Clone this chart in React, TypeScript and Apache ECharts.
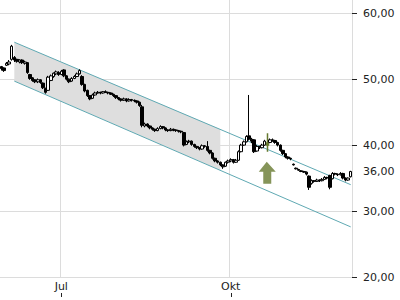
import React, { useEffect, useRef } from 'react';
import * as echarts from 'echarts';

// ---------- categories (trading days) ----------
const START_DATE = '2023-05-31';
const DAY_COUNT = 135;
function tradingDays(start: string, n: number): string[] {
  const out: string[] = [];
  const d = new Date(start + 'T00:00:00Z');
  while (out.length < n) {
    const wd = d.getUTCDay();
    if (wd !== 0 && wd !== 6) out.push(d.toISOString().slice(0, 10));
    d.setUTCDate(d.getUTCDate() + 1);
  }
  return out;
}
const dates = tradingDays(START_DATE, DAY_COUNT);
const monthLabels: Record<number, string> = { 7: 'Jul', 10: 'Okt' };

// ---------- OHLC: [open, close, low, high] ----------
const ohlc: number[][] = [
  [51.9, 51.6, 51.3, 52.0], [51.7, 51.3, 51.1, 51.8], [52.1, 52.4, 52.0, 52.6], [52.3, 52.6, 52.1, 52.9], [53.0, 55.0, 52.8, 55.2],
  [53.3, 52.9, 52.6, 53.5], [53.0, 52.7, 52.5, 53.1], [52.6, 52.9, 52.4, 53.0], [52.9, 52.5, 52.3, 53.0], [52.4, 52.6, 52.2, 52.8],
  [52.5, 51.0, 50.8, 52.6], [50.7, 50.1, 49.9, 50.8], [50.2, 49.8, 49.6, 50.3], [49.9, 49.6, 49.4, 50.0], [49.6, 49.9, 49.4, 50.1],
  [49.9, 49.5, 49.3, 50.0], [49.4, 48.7, 48.5, 49.5], [48.6, 48.0, 47.8, 48.7], [48.3, 50.3, 48.2, 50.5], [49.8, 50.5, 49.7, 50.7],
  [50.4, 50.9, 50.2, 51.0], [50.8, 51.1, 50.6, 51.3], [51.0, 50.7, 50.5, 51.2], [50.7, 51.2, 50.6, 51.4], [51.4, 50.5, 50.3, 51.5],
  [50.5, 50.0, 49.8, 50.6], [50.0, 49.6, 49.4, 50.1], [49.7, 50.1, 49.6, 50.3], [50.1, 50.4, 50.0, 50.6], [50.4, 50.8, 50.3, 51.0],
  [50.8, 51.3, 50.7, 51.5], [50.4, 49.2, 49.0, 50.6], [49.2, 48.2, 48.0, 49.3], [48.3, 47.5, 47.3, 48.4], [47.5, 47.0, 46.8, 47.6],
  [47.1, 47.6, 47.0, 47.8], [47.6, 47.9, 47.5, 48.1], [47.9, 48.0, 47.8, 48.2], [48.0, 47.9, 47.7, 48.1], [47.9, 48.1, 47.8, 48.2],
  [48.1, 48.0, 47.9, 48.3], [48.0, 47.9, 47.7, 48.1], [47.9, 47.7, 47.6, 48.0], [47.7, 47.5, 47.3, 47.8], [47.5, 47.2, 47.0, 47.6],
  [47.2, 47.0, 46.8, 47.3], [47.0, 46.8, 46.6, 47.1], [46.8, 47.0, 46.7, 47.2], [47.0, 46.7, 46.5, 47.1], [46.7, 46.9, 46.6, 47.1],
  [46.9, 46.8, 46.6, 47.0], [46.8, 46.7, 46.5, 46.9], [46.7, 46.5, 46.3, 46.8], [46.5, 46.0, 45.8, 46.6], [45.8, 43.0, 42.7, 46.1],
  [42.9, 43.2, 42.7, 43.4], [43.2, 42.9, 42.7, 43.3], [42.9, 42.6, 42.4, 43.0], [42.6, 42.4, 42.2, 42.7], [42.4, 42.2, 42.0, 42.5],
  [42.2, 42.5, 42.1, 42.7], [42.5, 42.8, 42.4, 43.0], [42.8, 42.6, 42.4, 42.9], [42.6, 42.3, 42.1, 42.7], [42.3, 42.2, 42.0, 42.4],
  [42.2, 42.4, 42.1, 42.6], [42.4, 42.3, 42.1, 42.5], [42.3, 42.2, 42.0, 42.4], [42.2, 42.1, 41.9, 42.3], [42.1, 42.0, 41.8, 42.2],
  [41.9, 40.0, 39.8, 42.0], [40.1, 40.5, 40.0, 40.7], [40.5, 40.6, 40.3, 40.8], [40.6, 40.1, 39.9, 40.7], [40.1, 39.8, 39.6, 40.2],
  [39.8, 39.6, 39.4, 39.9], [39.6, 39.4, 39.2, 39.7], [39.4, 39.9, 39.3, 40.1], [39.9, 39.8, 39.6, 40.0], [39.8, 39.2, 39.0, 40.6],
  [39.2, 38.8, 38.6, 39.3], [38.8, 38.0, 37.8, 38.9], [38.0, 37.6, 37.4, 38.1], [37.6, 37.4, 37.2, 37.7], [37.4, 37.0, 36.8, 37.5],
  [37.0, 36.7, 36.4, 37.1], [36.8, 37.4, 36.7, 37.5], [37.4, 37.6, 37.2, 37.8], [37.6, 37.8, 37.4, 38.0], [37.8, 37.4, 37.2, 37.9],
  [37.4, 37.7, 37.3, 37.9], [37.7, 39.0, 37.6, 39.2], [39.0, 40.0, 38.9, 40.2], [40.0, 40.5, 39.9, 40.7], [40.5, 41.3, 40.4, 41.5],
  [41.4, 40.9, 40.7, 47.6], [40.9, 40.6, 40.3, 41.1], [40.8, 39.0, 38.8, 40.9], [39.1, 39.8, 39.0, 40.0], [39.8, 39.6, 39.4, 39.9],
  [39.6, 40.0, 39.5, 40.2], [40.0, 40.6, 39.9, 40.8], [40.0, 40.3, 39.0, 41.8], [40.4, 40.8, 40.3, 41.0], [40.8, 40.7, 40.5, 41.0],
  [40.7, 40.4, 40.2, 40.8], [40.4, 40.0, 39.8, 40.5], [40.0, 39.2, 39.0, 40.1], [39.2, 38.7, 38.5, 39.3], [38.7, 38.2, 38.0, 38.8],
  [38.2, 38.0, 37.8, 38.3], [38.0, 37.9, 37.7, 38.1], [37.1, 37.0, 36.9, 37.2], [36.5, 36.4, 36.3, 36.6], [36.3, 36.2, 36.1, 36.4],
  [36.1, 36.0, 35.9, 36.2], [36.0, 35.9, 35.8, 36.1], [35.9, 35.6, 35.4, 36.0], [35.3, 33.6, 33.2, 35.4], [34.2, 34.6, 34.0, 34.8],
  [34.6, 34.5, 34.3, 34.7], [34.5, 34.7, 34.4, 34.9], [34.7, 34.6, 34.4, 34.8], [34.6, 34.8, 34.5, 35.0], [34.8, 35.1, 34.7, 35.3],
  [35.1, 35.0, 34.8, 35.2], [35.4, 33.6, 33.3, 35.5], [34.9, 35.7, 34.8, 35.9], [35.7, 35.6, 35.4, 35.8], [35.6, 35.5, 35.3, 35.7],
  [35.5, 35.7, 35.4, 35.9], [35.7, 35.0, 34.8, 35.8], [35.0, 34.7, 34.5, 35.1], [34.7, 35.0, 34.6, 35.1], [35.2, 36.0, 35.1, 36.1],
];

// signal candle and arrow
const signalIndex = 102;
const signalArrow = [[102, 35.8]];

// trend channel: [dayIndex, value]
const upperChannel = [[5, 55.6], [134, 34.0]];
const lowerChannel = [[5, 49.7], [134, 27.6]];
// shaded band: [dayIndex, upper, lower]
const shadeBand = [[5, 55.6, 49.7], [84, 42.4, 36.2]];

// y axis
const yMin = 20;
const yMax = 62;
const yGridValues = [20, 30, 40, 50, 60];
const yLabelValues = [20, 30, 36, 40, 50, 60];

const GRID_COLOR = '#dcdcdc';
const CHANNEL_COLOR = '#5fa9b3';
const SIGNAL_COLOR = '#66792f';

function isQuarterLabel(index: number): boolean {
  const m = Number(dates[index].slice(5, 7));
  if (!monthLabels[m]) return false;
  if (index === 0) return false;
  return dates[index - 1].slice(5, 7) !== dates[index].slice(5, 7);
}

export default function App() {
  const ref = useRef<HTMLDivElement>(null);
  useEffect(() => {
    if (!ref.current) return;
    const chart = echarts.init(ref.current, undefined, { renderer: 'svg' });
    const candleData = ohlc.map((v, i) =>
      i === signalIndex
        ? { value: v, itemStyle: { color: SIGNAL_COLOR, color0: SIGNAL_COLOR, borderColor: SIGNAL_COLOR, borderColor0: SIGNAL_COLOR, borderWidth: 1.5 } }
        : v
    );
    chart.setOption({
      animation: false,
      grid: { left: 0, right: 48, top: 0, bottom: 23, containLabel: false },
      xAxis: [
        {
          type: 'category',
          data: dates,
          boundaryGap: true,
          axisLine: { show: false },
          axisTick: { show: false },
          axisLabel: {
            interval: (i: number) => isQuarterLabel(i),
            formatter: (v: string) => monthLabels[Number(v.slice(5, 7))] || '',
            margin: 4,
            fontSize: 11,
            color: '#222',
            fontFamily: 'DejaVu Sans',
          },
          splitLine: { show: true, interval: (i: number) => isQuarterLabel(i), lineStyle: { color: GRID_COLOR, width: 1 } },
        },
        {
          type: 'category',
          data: dates,
          boundaryGap: true,
          position: 'bottom',
          offset: 16,
          axisLine: { show: false },
          axisLabel: { show: false },
          axisTick: { show: true, alignWithLabel: true, length: 4, interval: (i: number) => isQuarterLabel(i), lineStyle: { color: '#222' } },
          splitLine: { show: false },
        },
      ],
      yAxis: {
        type: 'value',
        position: 'right',
        min: yMin,
        max: yMax,
        interval: 10,
        axisLine: { show: false },
        axisTick: { show: true, length: 5, customValues: yGridValues, lineStyle: { color: '#222' } },
        axisLabel: {
          customValues: yLabelValues,
          formatter: (v: number) => v.toFixed(2).replace('.', ','),
          margin: 11,
          fontSize: 11,
          color: '#222',
          fontFamily: 'DejaVu Sans',
        },
        splitLine: { show: true, lineStyle: { color: GRID_COLOR, width: 1 } },
      },
      series: [
        {
          type: 'custom',
          z: 1,
          silent: true,
          data: [[shadeBand[0][0], shadeBand[0][1]]],
          renderItem: (params: any, api: any) => {
            const a = shadeBand[0];
            const b = shadeBand[1];
            const p1 = api.coord([a[0], a[1]]);
            const p2 = api.coord([b[0], b[1]]);
            const p3 = api.coord([b[0], b[2]]);
            const p4 = api.coord([a[0], a[2]]);
            return { type: 'polygon', shape: { points: [p1, p2, p3, p4] }, style: { fill: '#dedede' } };
          },
        },
        {
          type: 'line',
          z: 2,
          silent: true,
          symbol: 'none',
          data: upperChannel.map((p) => [dates[p[0]], p[1]]),
          lineStyle: { color: CHANNEL_COLOR, width: 1 },
        },
        {
          type: 'line',
          z: 2,
          silent: true,
          symbol: 'none',
          data: lowerChannel.map((p) => [dates[p[0]], p[1]]),
          lineStyle: { color: CHANNEL_COLOR, width: 1 },
        },
        {
          type: 'candlestick',
          z: 3,
          barWidth: 3,
          data: candleData,
          itemStyle: { color: '#ffffff', color0: '#000000', borderColor: '#000000', borderColor0: '#000000', borderWidth: 1 },
        },
        {
          type: 'scatter',
          z: 4,
          silent: true,
          symbol: 'path://M8 0 L17 10 L12.5 10 L12.5 22 L4.5 22 L4.5 10 L0 10 Z',
          symbolSize: [17, 22],
          itemStyle: { color: SIGNAL_COLOR },
          data: signalArrow.map((p) => [dates[p[0]], p[1]]),
        },
      ],
    });
    return () => chart.dispose();
  }, []);
  return <div ref={ref} style={{ width: 400, height: 300, position: 'absolute', left: 0, top: 0 }} />;
}
